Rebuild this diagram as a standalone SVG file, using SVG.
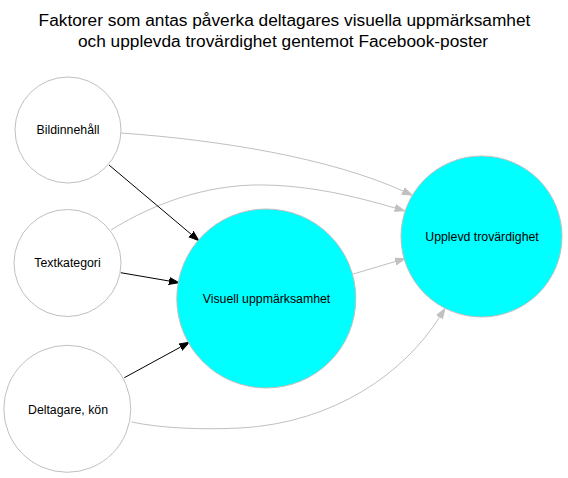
<svg xmlns="http://www.w3.org/2000/svg" width="568" height="478" viewBox="0 0 568 478">
<style>
.node { stroke: #c0c0c0; stroke-width: 1; }
.plain { fill: #ffffff; }
.hl { fill: #00ffff; }
.lbl { font-family: "Liberation Sans", Arial, sans-serif; font-size: 12.3px; fill: #000000; text-anchor: middle; }
.title { font-family: "Liberation Sans", Arial, sans-serif; font-size: 17.3px; fill: #000000; text-anchor: middle; }
.e-black { fill: none; stroke: #000000; stroke-width: 1; marker-end: url(#ah-black); }
.e-gray { fill: none; stroke: #c0c0c0; stroke-width: 1; marker-end: url(#ah-gray); }
</style>
<defs>
<marker id="ah-black" markerUnits="userSpaceOnUse" markerWidth="12" markerHeight="10" viewBox="0 -5 12 10" refX="0" refY="0" orient="auto">
<path d="M0,-3.5 L10,0 L0,3.5 Z" fill="#000000" stroke="#000000" stroke-width="1"/>
</marker>
<marker id="ah-gray" markerUnits="userSpaceOnUse" markerWidth="12" markerHeight="10" viewBox="0 -5 12 10" refX="0" refY="0" orient="auto">
<path d="M0,-3.5 L10,0 L0,3.5 Z" fill="#c0c0c0" stroke="#c0c0c0" stroke-width="1"/>
</marker>
</defs>
<rect x="0" y="0" width="568" height="478" fill="#ffffff"/>
<g id="title">
<text class="title" x="284.5" y="26">Faktorer som antas påverka deltagares visuella uppmärksamhet</text>
<text class="title" x="283" y="47">och upplevda trovärdighet gentemot Facebook-poster</text>
</g>
<g id="edges">
<path class="e-gray" d="M121,133 C220,140 330,158 403,191"/>
<path class="e-gray" d="M111,230 C140,212 190,187 253,185 C310,184 360,198 395,208"/>
<path class="e-black" d="M109,165 L191.1,234.2"/>
<path class="e-black" d="M120.7,272.7 L169.1,281"/>
<path class="e-black" d="M124.3,377.7 L180.5,347.1"/>
<path class="e-gray" d="M353.3,274 L395.4,261.5"/>
<path class="e-gray" d="M131.7,422 C160,428 200,430 240,428 C335,423 405,372 439.5,317.2"/>
</g>
<g id="node-bildinnehall">
<circle class="node plain" cx="68" cy="130" r="53"/>
<text class="lbl" x="68" y="134.3">Bildinnehåll</text>
</g>
<g id="node-textkategori">
<circle class="node plain" cx="67.5" cy="263" r="53.5"/>
<text class="lbl" x="67.5" y="267">Textkategori</text>
</g>
<g id="node-deltagare">
<circle class="node plain" cx="67.3" cy="408.8" r="63.5"/>
<text class="lbl" x="68" y="413.5">Deltagare, kön</text>
</g>
<g id="node-visuell">
<circle class="node hl" cx="266.3" cy="298.5" r="89.5"/>
<text class="lbl" x="266.5" y="302.7">Visuell uppmärksamhet</text>
</g>
<g id="node-upplevd">
<circle class="node hl" cx="481.5" cy="236.5" r="80.5"/>
<text class="lbl" x="482" y="240.5">Upplevd trovärdighet</text>
</g>
</svg>
